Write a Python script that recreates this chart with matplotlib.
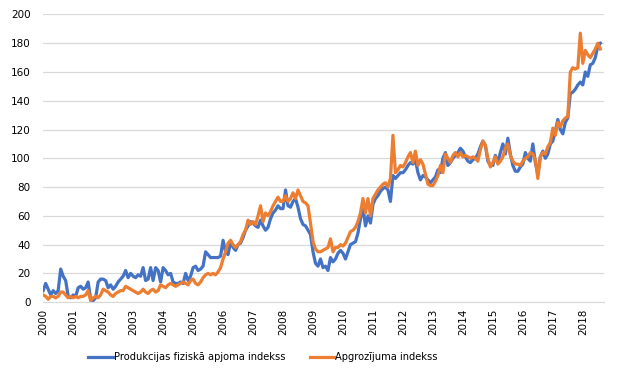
import numpy as np
import matplotlib
matplotlib.use("Agg")
import matplotlib.pyplot as plt

# Gada sākuma etiķetes
gadi = [str(g) for g in range(2000, 2019)]

# Produkcijas fiziskā apjoma indekss (mēneša dati, 2000-01 .. 2018-08)
produkcija_2000_2004 = [
    8, 13, 9, 5, 8, 6, 8, 23, 18, 15, 4, 3,
    5, 4, 10, 11, 9, 10, 14, 2, 1, 3, 14, 16,
    16, 15, 10, 12, 9, 11, 14, 16, 18, 22, 17, 20,
    18, 17, 19, 18, 24, 15, 16, 24, 15, 24, 22, 14,
    24, 22, 19, 20, 14, 13, 13, 14, 13, 20, 15, 18,
]
produkcija_2005_2009 = [
    24, 25, 22, 23, 25, 35, 33, 31, 31, 31, 31, 32,
    43, 35, 33, 42, 38, 36, 40, 41, 45, 50, 53, 56,
    55, 53, 52, 57, 53, 50, 52, 58, 62, 64, 67, 65,
    65, 78, 67, 66, 70, 72, 66, 58, 54, 53, 50, 47,
    35, 27, 25, 30, 24, 25, 22, 31, 28, 30, 34, 36,
]
produkcija_2010_2014 = [
    34, 30, 35, 40, 41, 42, 48, 58, 66, 53, 60, 55,
    68, 72, 74, 77, 79, 80, 78, 70, 88, 86, 88, 90,
    90, 92, 95, 97, 96, 99, 90, 85, 88, 87, 85, 83,
    85, 87, 92, 90, 100, 104, 95, 97, 100, 102, 104, 107,
    105, 101, 98, 97, 99, 100, 103, 108, 112, 109, 98, 95,
]
produkcija_2015_2018 = [
    95, 102, 97, 104, 110, 103, 114, 103, 95, 91, 91, 94,
    96, 104, 100, 98, 110, 97, 89, 101, 105, 100, 103, 110,
    112, 119, 127, 120, 117, 125, 128, 145, 146, 148, 151, 153,
    151, 160, 157, 165, 166, 170, 178, 180,
]

# Apgrozījuma indekss
apgrozijums_2000_2004 = [
    5, 4, 2, 4, 4, 3, 4, 7, 7, 5, 3, 4,
    3, 4, 3, 4, 4, 5, 8, 1, 3, 4, 3, 5,
    9, 8, 7, 5, 4, 6, 7, 8, 8, 11, 10, 9,
    8, 7, 6, 7, 9, 7, 6, 8, 9, 7, 8, 12,
    11, 10, 12, 13, 12, 11, 12, 13, 14, 13, 12, 15,
]
apgrozijums_2005_2009 = [
    16, 13, 12, 14, 17, 19, 20, 19, 20, 19, 21, 24,
    30, 35, 41, 43, 40, 38, 40, 42, 47, 50, 57, 54,
    56, 54, 60, 67, 56, 62, 60, 63, 67, 70, 73, 70,
    70, 74, 70, 72, 76, 72, 78, 74, 70, 69, 67, 55,
    42, 37, 35, 35, 36, 37, 38, 44, 35, 38, 38, 40,
]
apgrozijums_2010_2014 = [
    39, 41, 45, 49, 50, 52, 56, 62, 72, 62, 72, 60,
    72, 75, 78, 80, 82, 83, 80, 86, 116, 90, 92, 95,
    94, 97, 101, 104, 97, 105, 95, 99, 96, 89, 82, 81,
    81, 84, 88, 95, 90, 103, 100, 97, 102, 104, 101, 104,
    101, 102, 101, 100, 101, 100, 98, 106, 112, 109, 100, 94,
]
apgrozijums_2015_2018 = [
    97, 101, 96, 98, 101, 107, 110, 102, 98, 96, 96, 95,
    98, 100, 101, 104, 103, 99, 86, 101, 104, 103, 108, 111,
    121, 116, 125, 122, 126, 128, 129, 160, 163, 162, 163, 187,
    166, 175, 172, 170, 173, 176, 180, 176,
]

produkcija = produkcija_2000_2004 + produkcija_2005_2009 + produkcija_2010_2014 + produkcija_2015_2018
apgrozijums = apgrozijums_2000_2004 + apgrozijums_2005_2009 + apgrozijums_2010_2014 + apgrozijums_2015_2018
menesi = np.arange(len(produkcija))

plt.rcParams['font.family'] = ['DejaVu Sans']

fig = plt.figure(figsize=(6.17, 3.81), dpi=100)
ax = fig.add_axes([0.070, 0.207, 0.909, 0.755])

ax.plot(menesi, produkcija, color='#4472C4', linewidth=2.3, label='Produkcijas fiziskā apjoma indekss')
ax.plot(menesi, apgrozijums, color='#ED7D31', linewidth=2.3, label='Apgrozījuma indekss')

ax.set_ylim(0, 200)
ax.set_yticks(range(0, 201, 20))
ax.set_xlim(0, len(menesi) + 0.5)
ax.set_xticks(range(0, 12 * len(gadi), 12))
ax.set_xticklabels(gadi, rotation=90)

ax.grid(axis='y', color='#D9D9D9', linewidth=0.9)
ax.set_axisbelow(True)
for s in ['top', 'right', 'left']:
    ax.spines[s].set_visible(False)
ax.spines['bottom'].set_color('#D9D9D9')
ax.tick_params(axis='both', length=0, labelsize=7.5, colors='black')
ax.tick_params(axis='y', pad=9)
ax.tick_params(axis='x', pad=5)

fig.legend(loc='center', bbox_to_anchor=(0.426, 0.063), ncol=2, frameon=False,
           fontsize=7.1, handlelength=2.5, handletextpad=0.1, columnspacing=2.5)

fig.savefig('out.png', dpi=100)
